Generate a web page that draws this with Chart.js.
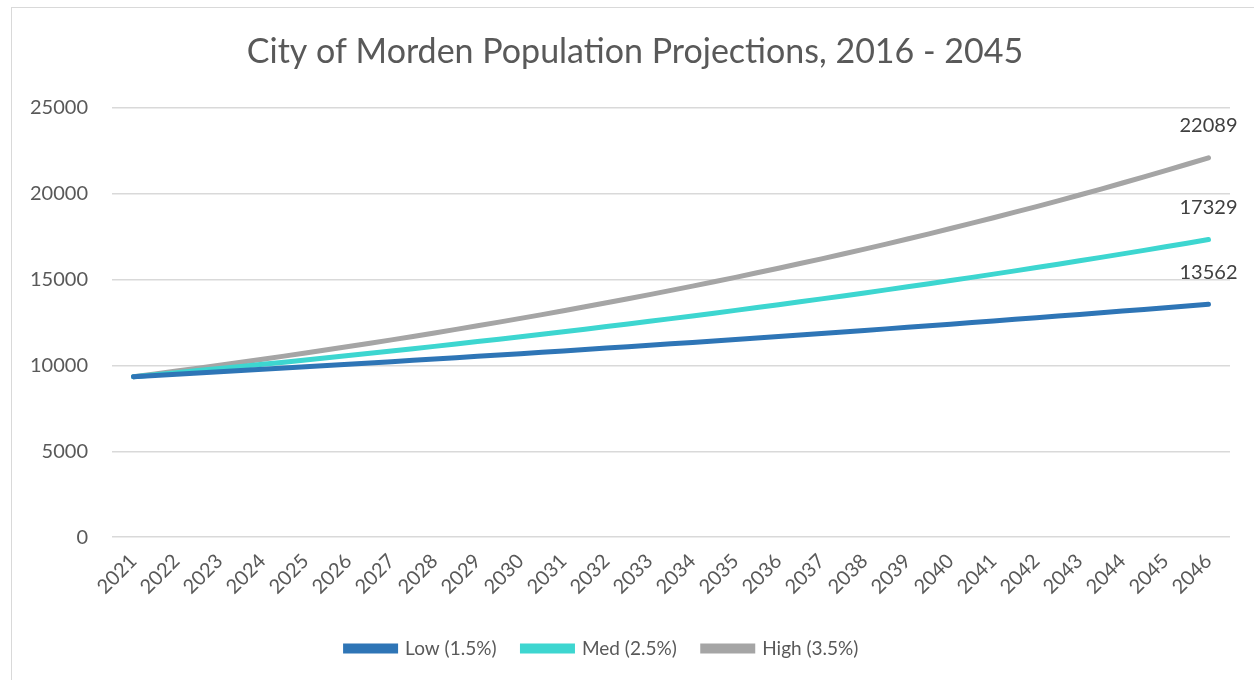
<!DOCTYPE html>
<html>
<head>
<meta charset="utf-8">
<script src="https://cdn.jsdelivr.net/npm/chart.js@4"></script>
<style>
  body { margin: 0; background: #fff; overflow: hidden; }
  #frame { position: absolute; left: 11px; top: 7px; width: 1300px; height: 700px; border: 1px solid #d9d9d9; }
  #wrap { position: absolute; left: 0; top: 0; width: 1254px; height: 680px; }
</style>
</head>
<body>
<div id="frame"></div>
<div id="wrap"><canvas id="popChart"></canvas></div>
<script>
// years on the x axis
const years = ["2021", "2022", "2023", "2024", "2025", "2026", "2027", "2028", "2029", "2030",
  "2031", "2032", "2033", "2034", "2035", "2036", "2037", "2038", "2039", "2040",
  "2041", "2042", "2043", "2044", "2045", "2046"];

// projected population per scenario
const lowGrowth = [9347, 9487, 9629, 9774, 9920, 10069, 10220, 10374, 10529, 10687,
  10848, 11010, 11175, 11343, 11513, 11686, 11861, 12039, 12220, 12403,
  12589, 12778, 12970, 13164, 13362, 13562];
const medGrowth = [9347, 9581, 9820, 10066, 10317, 10575, 10840, 11111, 11389, 11673,
  11965, 12264, 12571, 12885, 13207, 13538, 13876, 14223, 14579, 14943,
  15317, 15700, 16092, 16494, 16907, 17329];
const highGrowth = [9347, 9674, 10013, 10363, 10726, 11101, 11490, 11892, 12308, 12739,
  13185, 13647, 14124, 14619, 15130, 15660, 16208, 16775, 17362, 17970,
  18599, 19250, 19923, 20621, 21342, 22089];

const seriesNames = ["Low (1.5%)", "Med (2.5%)", "High (3.5%)"];
const yTicks = [0, 5000, 10000, 15000, 20000, 25000];

const FONT = "Lato, 'Open Sans', sans-serif";

// label the last point of each line with its value
const endLabels = {
  id: "endLabels",
  afterDatasetsDraw(chart) {
    const ctx = chart.ctx;
    ctx.save();
    ctx.font = "20px " + FONT;
    ctx.fillStyle = "#404040";
    ctx.textAlign = "center";
    ctx.textBaseline = "bottom";
    chart.data.datasets.forEach((ds, i) => {
      const meta = chart.getDatasetMeta(i);
      const last = meta.data[meta.data.length - 1];
      ctx.fillText(String(ds.data[ds.data.length - 1]), last.x, last.y - 22);
    });
    ctx.restore();
  }
};

// y labels hang into the left padding, legend sits a bit left of centre
const nudge = {
  id: "nudge",
  afterLayout(chart) {
    chart.scales.y.left = 0;
    chart.legend.left -= 33;
    chart.legend.right -= 33;
  }
};

const ctx = document.getElementById("popChart").getContext("2d");
new Chart(ctx, {
  type: "line",
  data: {
    labels: years,
    datasets: [
      { label: seriesNames[0], data: lowGrowth, borderColor: "#2e75b6", backgroundColor: "#2e75b6" },
      { label: seriesNames[1], data: medGrowth, borderColor: "#3dd6d0", backgroundColor: "#3dd6d0" },
      { label: seriesNames[2], data: highGrowth, borderColor: "#a5a5a5", backgroundColor: "#a5a5a5" }
    ]
  },
  options: {
    responsive: true,
    maintainAspectRatio: false,
    animation: false,
    layout: { padding: { left: 40, right: 24, top: 10, bottom: 12 } },
    elements: {
      line: { borderWidth: 5, tension: 0.3, borderCapStyle: "round" },
      point: { radius: 0 }
    },
    plugins: {
      title: {
        display: true,
        text: "City of Morden Population Projections, 2016 - 2045",
        color: "#595959",
        font: { family: FONT, size: 34, weight: "normal" },
        padding: { top: 22, bottom: 35 }
      },
      legend: {
        position: "bottom",
        labels: {
          color: "#595959",
          font: { family: FONT, size: 19 },
          boxWidth: 50,
          boxHeight: 5,
          padding: 26
        }
      },
      tooltip: { enabled: false }
    },
    scales: {
      x: {
        offset: true,
        grid: { display: false },
        border: { display: false },
        ticks: {
          color: "#595959",
          font: { family: FONT, size: 20 },
          minRotation: 45,
          maxRotation: 45,
          autoSkip: false,
          padding: 4
        },
        afterFit: axis => { axis.paddingLeft = 0; axis.height += 10; }
      },
      y: {
        min: 0,
        max: 25000,
        afterBuildTicks: axis => { axis.ticks = yTicks.map(v => ({ value: v })); },
        afterFit: axis => { axis.width = 72; },
        grid: { color: "#d9d9d9", lineWidth: 1.5, drawTicks: false },
        border: { display: false },
        ticks: {
          color: "#595959",
          font: { family: FONT, size: 20 },
          padding: 24,
          callback: v => String(v)
        }
      }
    }
  },
  plugins: [endLabels, nudge]
});
</script>
</body>
</html>
